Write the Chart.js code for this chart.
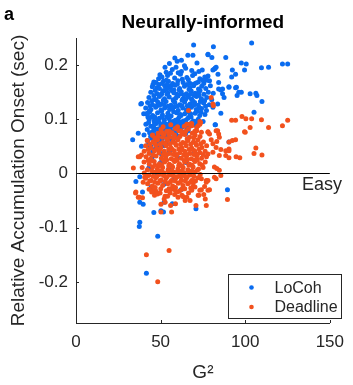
<!DOCTYPE html>
<html>
<head>
<meta charset="utf-8">
<script src="https://cdn.jsdelivr.net/npm/chart.js@4.4.1/dist/chart.umd.min.js"></script>
<style>
  html, body { margin: 0; padding: 0; background: #fff; }
  #wrap { position: relative; width: 353px; height: 385px; }
</style>
</head>
<body>
<div id="wrap"><canvas id="scatter" width="353" height="385"></canvas></div>
<script>
// series names, as in the legend
const seriesNames = ['LoCoh', 'Deadline'];
const panelLabel = 'a';
const chartTitle = 'Neurally-informed';
const xTitle = 'G\u00B2';
const yTitle = 'Relative Accumulation Onset (sec)';
const refLabel = 'Easy';

// axis ticks
const xTicks = [0, 50, 100, 150];
const yTicks = [-0.2, -0.1, 0, 0.1, 0.2];

// LoCoh: [G^2, onset]
const locohPoints = [
  [103.8,0.241],[81.2,0.234],[78,0.220],[80.3,0.214],[88.5,0.214],[97.7,0.204],[100.6,0.202],[122,0.202],[125.1,0.202],
  [109.6,0.195],[113.8,0.196],[99.6,0.191],[92.4,0.191],[94.3,0.183],[92,0.178],[82.2,0.194],[80.9,0.191],[83.9,0.183],
  [78,0.180],[78.9,0.171],[84.3,0.168],[90.4,0.160],[94.3,0.158],[85.6,0.154],[86.6,0.147],[96.2,0.150],[102.9,0.147],
  [106.3,0.148],[106.9,0.144],[109.9,0.133],[85.6,0.111],[105.2,0.113],[82.2,0.090],[90.4,0.058],[89.5,-0.030],
  [81.8,0.193],[82.8,0.196],[90.4,0.159],[84.3,0.156],[86.6,0.156],[94.8,0.159],[95.2,0.144],[97.7,0.150],[87.5,0.140],
  [83.7,0.128],[80.9,0.122],[82.4,0.090],
  [69.5,0.237],[66.1,0.218],[69.1,0.218],[78,0.219],[58.4,0.213],[62.3,0.209],[62.3,0.188],[68.4,0.190],[72.6,0.188],
  [49.6,0.182],[46,0.169],[48.9,0.164],[51.7,0.170],[54.6,0.170],[56.3,0.162],[47.7,0.158],[52.1,0.153],[57.9,0.154],
  [50.7,0.147],[47.3,0.136],[38.7,0.129],[41.6,0.110],[43.5,0.116],[38.3,0.128],[40,0.110],[42.5,0.104],
  [33.5,0.062],[36.8,0.074],[38.7,0.050],[42.5,0.052],[35.4,-0.015],[37.7,-0.006],[39.3,-0.034],[44.4,-0.025],
  [47.3,-0.034],[46.4,-0.034],[37.7,-0.053],[39.7,-0.057],[46,-0.072],[50.2,-0.069],[51.7,-0.071],[37.7,-0.090],
  [37.4,-0.098],[48.3,-0.116],[41.6,-0.184],[70.9,-0.065],[56.9,-0.056],[52.1,-0.053],
  [55.2,0.203],[59.8,0.207],[64.1,0.199],[71.5,0.204],[52.6,0.196],
  [56.9,0.192],[60.4,0.186],[64.8,0.194],[70.2,0.184],[74.6,0.191],[53.3,0.187],
  [50.8,0.178],[54.1,0.181],[58.3,0.176],[61.7,0.183],[65.5,0.177],[68.9,0.181],[73.2,0.175],[76.1,0.178],
  [47.2,0.168],[53.4,0.172],[57.1,0.166],[60.2,0.171],[63.3,0.168],[66.4,0.173],[69.8,0.165],[72.3,0.169],[75.5,0.166],[77.4,0.172],
  [45.1,0.160],[49.3,0.157],[52.4,0.162],[55.3,0.159],[58.6,0.163],[61.2,0.157],[64.1,0.161],[67.3,0.158],[69.5,0.162],
  [72.4,0.156],[74.3,0.161],[76.7,0.157],[79.4,0.162],
  [44.2,0.150],[48.1,0.147],[51.3,0.152],[54.2,0.148],[56.4,0.153],[59.5,0.146],[62.2,0.151],[65.3,0.147],[68.1,0.152],
  [70.4,0.148],[73.3,0.153],[75.6,0.146],[78.2,0.150],[81.1,0.148],
  [43.1,0.140],[46.4,0.137],[49.2,0.142],[52.3,0.138],[55.1,0.141],[57.4,0.136],[60.3,0.143],[63.2,0.138],[66.4,0.141],
  [68.3,0.137],[71.2,0.142],[74.1,0.138],[77.3,0.140],[80.2,0.136],
  [42.3,0.131],[45.2,0.127],[48.3,0.132],[50.4,0.128],[53.2,0.133],[56.1,0.126],[58.4,0.131],[61.3,0.127],[64.2,0.132],
  [67.4,0.128],[70.1,0.131],[72.3,0.126],[75.4,0.130],[78.8,0.127],
  [41.2,0.121],[44.3,0.118],[47.1,0.122],[50.2,0.117],[52.4,0.121],[55.3,0.118],[58.2,0.123],[60.4,0.116],[63.1,0.121],
  [65.3,0.117],[68.2,0.122],[71.1,0.118],[74.2,0.120],[77.1,0.116],
  [42.4,0.111],[45.3,0.107],[48.2,0.112],[51.1,0.108],[54.3,0.111],[56.2,0.106],[59.4,0.112],[62.1,0.107],[64.3,0.110],
  [67.2,0.106],[70.4,0.111],[73.1,0.107],[76.2,0.109],
  [43.2,0.100],[46.1,0.097],[49.3,0.102],[52.2,0.098],[55.1,0.101],[57.3,0.096],[60.2,0.100],[63.4,0.097],[66.1,0.102],
  [69.3,0.097],[72.2,0.100],[75.1,0.096],
  [41.3,0.091],[44.2,0.087],[47.4,0.092],[50.1,0.088],[53.3,0.091],[56.2,0.087],[59.1,0.092],[61.4,0.088],[64.2,0.091],
  [67.1,0.087],[71.3,0.089],
  [42.1,0.081],[45.2,0.077],[48.3,0.082],[51.2,0.078],[54.1,0.081],[57.4,0.077],[60.1,0.080],[63.2,0.076],[66.3,0.079],
  [40.2,0.071],[44.1,0.068],[47.3,0.072],[50.2,0.067],[53.1,0.070],[56.3,0.066],[60.2,0.069],
  [42.3,0.061],[46.1,0.058],[49.2,0.062],[53.3,0.057],[57.1,0.060],
  [44.2,0.050],[48.1,0.047],[52.3,0.051],[45.3,0.040],[50.1,0.037],[55.2,0.041],
  [46.8,0.153],[50.0,0.145],[53.7,0.156],[57.8,0.149],[61.0,0.154],[63.8,0.145],[66.8,0.155],[69.9,0.144],[72.6,0.150],
  [44.8,0.134],[47.7,0.125],[51.6,0.135],[54.6,0.124],[57.6,0.134],[59.9,0.124],[62.7,0.135],[65.8,0.125],[68.9,0.134],[73.5,0.133],
  [43.6,0.114],[46.6,0.104],[50.6,0.115],[53.6,0.104],[57.7,0.114],[61.0,0.104],[65.7,0.114],[68.0,0.104],[71.6,0.115],
  [45.9,0.084],[49.0,0.095],[52.5,0.084],[55.6,0.094],[58.6,0.084],[62.4,0.094],[65.6,0.085],[68.4,0.094],
  [48.8,0.175],[55.8,0.185],[62.8,0.174],[67.5,0.166],[59.1,0.196],
  [45.5,0.164],[50.9,0.166],[54.0,0.164],[59.9,0.165],[65.7,0.164],[71.0,0.167],[74.9,0.172],
  [46.0,0.144],[53.8,0.146],[58.9,0.139],[61.8,0.147],[64.8,0.137],[67.7,0.146],[72.7,0.144],[76.0,0.134],
  [43.7,0.125],[49.4,0.126],[52.2,0.127],[57.1,0.120],[62.6,0.125],[66.6,0.120],[69.6,0.126],[72.9,0.121],[76.6,0.124],
  [44.6,0.104],[47.8,0.098],[50.8,0.104],[54.7,0.106],[58.7,0.098],[61.7,0.109],[64.9,0.098],[67.7,0.110],[70.9,0.096],[73.9,0.113],
  [42.9,0.094],[46.2,0.090],[51.6,0.092],[54.9,0.087],[57.9,0.090],[60.7,0.096],[63.0,0.086],[66.0,0.091],[69.5,0.090],
  [43.5,0.075],[46.5,0.080],[49.7,0.074],[52.7,0.077],[55.7,0.082],[58.8,0.074],[61.9,0.082],[64.8,0.073],
  [45.1,0.064],[48.0,0.055],[51.0,0.064],[55.2,0.063],[50.6,0.054],[46.8,0.045],
  [45,0.030],[50,0.020],[55,0.010],[60,0.030],[65,0.020],[48,0.000],[58,-0.010],[43,0.010],[70,0.040],[52,-0.020],[62,-0.030]
];

// Deadline: [G^2, onset]
const deadlinePoints = [
  [98.1,0.105],[100.4,0.101],[103.8,0.101],[109.6,0.099],[92,0.098],[94.3,0.098],[125.1,0.098],[122,0.088],[102.9,0.085],
  [99.6,0.077],[113.8,0.085],[92.4,0.061],[94.3,0.062],[90.4,0.058],[106.3,0.047],[105.2,0.037],[109.9,0.034],[94.6,0.031],
  [96.8,0.029],[80.9,0.128],[73.2,0.096],[78,0.077],[83.7,0.079],[90.4,0.045],[81.8,0.012],[84.7,0.006],[85.6,-0.004],
  [81.8,-0.007],[77,-0.016],[100,0.076],
  [33.9,0.010],[36.8,0.031],[38.7,0.034],[35.4,-0.034],[36.8,-0.044],[39.7,-0.016],[40.6,-0.007],[45.4,-0.031],[46.4,-0.040],
  [52.1,-0.047],[55,-0.028],[58.4,-0.030],[60.3,-0.044],[62.6,-0.029],[66.5,-0.036],[69.4,-0.016],[74.1,-0.030],[77,-0.013],
  [78,-0.031],[35.2,-0.036],[37.4,-0.044],[39.3,-0.045],[50.2,-0.071],[56.5,-0.071],[50.2,-0.057],[52.7,-0.053],[55.9,-0.059],
  [58.8,-0.056],[64.5,-0.050],[70.9,-0.059],[77,-0.059],[72.6,-0.040],[76.4,-0.047],[55,-0.142],[41.6,-0.150],[48.3,-0.200],
  [66.5,0.116],[67.8,0.090],[79.9,0.140],[81.2,0.125],[68.4,0.092],[73.6,0.094],
  [82.8,0.079],[84.3,0.073],[84.7,0.067],[83.2,0.059],[78,0.076],[73.2,0.091],[71.3,0.085],
  [79.9,0.062],[80.9,0.055],[82.8,0.048],[85.6,0.044],[88.5,0.042],[90.4,0.042],
  [78,0.036],[80.9,0.039],[84.7,0.033],[88.5,0.033],[90.4,0.029],[83.2,0.009],[82.8,-0.010],
  [74.1,-0.010],[78,-0.013],[76,-0.024],[73.2,-0.031],[78.9,-0.030],[75.5,-0.039],[89.5,-0.048],
  [69.4,-0.013],[70.3,-0.025],[68.4,-0.031],[72.2,-0.040],[65.5,-0.044],[67.4,-0.050],
  [67.4,0.091],[72.2,0.088],[71.3,0.079],[74.1,0.076],[78.9,0.073],
  [65.5,0.091],[68.4,0.088],[60.7,0.079],[62.6,0.073],[45.4,0.070],[51.1,0.067],[55,0.073],[37.7,0.031],
  [50.3,0.081],[55.2,0.078],[58.7,0.083],[62.1,0.079],[66.4,0.082],[70.2,0.078],
  [45.2,0.071],[48.4,0.068],[52.1,0.072],[55.3,0.067],[58.2,0.071],[61.4,0.068],[64.3,0.072],[67.1,0.067],[70.4,0.071],[73.3,0.068],
  [42.1,0.061],[45.4,0.058],[48.2,0.062],[51.3,0.057],[54.1,0.061],[57.2,0.058],[60.3,0.062],[63.1,0.057],[66.2,0.061],
  [69.4,0.058],[72.1,0.062],[75.3,0.058],
  [41.2,0.051],[44.3,0.047],[47.1,0.052],[50.2,0.048],[53.3,0.051],[56.1,0.047],[59.2,0.052],[62.4,0.048],[65.1,0.051],
  [68.3,0.047],[71.2,0.052],[74.4,0.048],[77.2,0.051],
  [40.3,0.041],[43.2,0.037],[46.4,0.042],[49.1,0.038],[52.2,0.041],[55.4,0.037],[58.1,0.042],[61.3,0.038],[64.2,0.041],
  [67.4,0.037],[70.1,0.042],[73.2,0.038],[76.3,0.041],
  [41.4,0.031],[44.1,0.027],[47.3,0.032],[50.4,0.028],[53.1,0.031],[56.3,0.027],[59.4,0.032],[62.2,0.028],[65.3,0.031],
  [68.1,0.027],[71.4,0.032],[74.2,0.028],[77.1,0.031],
  [40.2,0.021],[43.3,0.017],[46.2,0.022],[49.3,0.018],[52.4,0.021],[55.2,0.017],[58.3,0.022],[61.1,0.018],[64.4,0.021],
  [67.2,0.017],[70.3,0.022],[73.1,0.018],[76.4,0.021],
  [39.1,0.011],[42.2,0.007],[45.3,0.012],[48.1,0.008],[51.2,0.011],[54.4,0.007],[57.1,0.012],[60.2,0.008],[63.3,0.011],
  [66.1,0.007],[69.2,0.012],[72.4,0.008],[75.1,0.011],
  [40.3,0.001],[43.1,-0.003],[46.4,0.002],[49.2,-0.002],[52.1,0.001],[55.3,-0.003],[58.2,0.002],[61.4,-0.002],[64.1,0.001],
  [67.3,-0.003],[70.2,0.002],[73.4,-0.002],
  [41.2,-0.009],[44.4,-0.013],[47.1,-0.008],[50.3,-0.012],[53.2,-0.009],[56.4,-0.013],[59.1,-0.008],[62.3,-0.012],[65.2,-0.009],
  [68.4,-0.013],[72.1,-0.008],
  [42.3,-0.019],[45.1,-0.023],[48.4,-0.018],[51.2,-0.022],[54.3,-0.019],[57.1,-0.023],[60.4,-0.018],[63.2,-0.022],[66.1,-0.019],[69.3,-0.023],
  [43.2,-0.029],[47.3,-0.033],[50.1,-0.028],[53.4,-0.032],[56.2,-0.029],[61.1,-0.033],[64.3,-0.028],
  [48.2,-0.038],[54.1,-0.042],[58.3,-0.039],[63.4,-0.043],
  [47.7,0.045],[51.6,0.034],[54.8,0.044],[57.6,0.035],[60.8,0.045],[63.7,0.034],[66.8,0.044],[69.7,0.035],[72.8,0.045],
  [44.7,0.024],[48.8,0.014],[51.7,0.025],[54.8,0.014],[57.7,0.025],[60.7,0.014],[63.9,0.024],[66.7,0.015],[69.8,0.025],
  [44.8,0.005],[47.7,-0.006],[50.7,0.005],[53.7,-0.006],[56.7,0.005],[59.7,-0.006],[62.8,0.005],[65.7,-0.006],[68.7,0.005],
  [46.7,0.065],[50.8,0.075],[53.6,0.064],[56.7,0.075],[59.8,0.064],[62.7,0.075],[65.7,0.064],[68.7,0.074],
  [46.8,-0.026],[52.7,-0.015],[58.8,-0.026],[61.8,-0.005],[67.8,-0.027],
  [43.7,0.054],[46.7,0.056],[49.7,0.054],[52.7,0.055],[55.6,0.054],[58.6,0.056],[61.8,0.054],[64.6,0.056],[67.8,0.054],[70.6,0.056],[73.7,0.055],
  [42.7,0.044],[45.6,0.034],[49.6,0.045],[53.6,0.035],[56.6,0.045],[59.6,0.035],[62.7,0.044],[65.6,0.035],[68.8,0.044],[71.7,0.036],[75.2,0.035],
  [42.6,0.024],[46.7,0.015],[50.6,0.015],[53.6,0.025],[56.6,0.014],[59.7,0.025],[62.6,0.014],[65.7,0.025],[68.6,0.015],[71.7,0.025],[74.6,0.015],
  [42.7,-0.004],[45.6,-0.005],[48.7,0.004],[51.7,-0.004],[54.7,0.004],[57.6,-0.005],[60.7,0.004],[63.6,-0.004],[66.7,0.004],[69.6,-0.005],[71.7,0.006],
  [43.6,-0.014],[46.6,-0.016],[49.6,-0.014],[55.6,-0.016],[58.6,-0.014],[61.6,-0.016],[64.6,-0.014],[67.6,-0.016],[70.6,-0.014],
  [44.7,-0.034],[49.7,-0.036],[55.6,-0.036],[59.7,-0.034],[62.6,-0.040],[52.6,-0.042],
  [48.6,0.074],[53.6,0.078],[57.6,0.066],[64.8,0.078],[69.6,0.066],[60.0,0.086],[56.0,0.090],[64.0,0.087],[51.5,0.086]
];

const colors = ['#0a6cf0', '#f2511d'];
const axisColor = '#262626';
const fontFamily = "'Liberation Sans', Arial, Helvetica, sans-serif";

// annotations, ticks drawn inward, zero line, legend box
const extras = {
  id: 'extras',
  afterDatasetsDraw(chart) {
    const ctx = chart.ctx;
    const ys = chart.scales.y;
    const a = chart.chartArea;
    ctx.save();
    // zero reference line
    const y0 = Math.round(ys.getPixelForValue(0)) + 0.5;
    ctx.strokeStyle = '#000';
    ctx.lineWidth = 1;
    ctx.beginPath();
    ctx.moveTo(a.left, y0);
    ctx.lineTo(a.right, y0);
    ctx.stroke();
    ctx.restore();
  },
  afterDraw(chart) {
    const ctx = chart.ctx;
    const xs = chart.scales.x, ys = chart.scales.y;
    const a = chart.chartArea;
    ctx.save();
    ctx.strokeStyle = axisColor;
    ctx.lineWidth = 1;
    // inward tick marks
    ctx.beginPath();
    xTicks.forEach(v => {
      const px = Math.round(xs.getPixelForValue(v)) + 0.5;
      ctx.moveTo(px, a.bottom);
      ctx.lineTo(px, a.bottom - 3);
    });
    yTicks.forEach(v => {
      const py = Math.round(ys.getPixelForValue(v)) + 0.5;
      ctx.moveTo(a.left, py);
      ctx.lineTo(a.left + 3, py);
    });
    ctx.stroke();

    // panel letter and title
    ctx.fillStyle = '#000';
    ctx.font = 'bold 18px ' + fontFamily;
    ctx.textBaseline = 'alphabetic';
    ctx.textAlign = 'left';
    ctx.fillText(panelLabel, 4, 20);
    ctx.font = 'bold 19px ' + fontFamily;
    ctx.textAlign = 'center';
    ctx.fillText(chartTitle, (a.left + a.right) / 2, 28);

    // reference label under the zero line
    ctx.font = '18px ' + fontFamily;
    ctx.textAlign = 'left';
    ctx.fillStyle = axisColor;
    ctx.fillText(refLabel, 302, ys.getPixelForValue(0) + 17);

    // legend
    const bx = 228.5, by = 274.5, bw = 113, bh = 44;
    ctx.fillStyle = '#fff';
    ctx.fillRect(bx, by, bw, bh);
    ctx.strokeStyle = axisColor;
    ctx.strokeRect(bx, by, bw, bh);
    ctx.font = '16px ' + fontFamily;
    ctx.textBaseline = 'middle';
    seriesNames.forEach((name, i) => {
      const ly = by + 13 + i * 19.5;
      ctx.fillStyle = colors[i];
      ctx.beginPath();
      ctx.arc(bx + 23, ly, 2.3, 0, Math.PI * 2);
      ctx.fill();
      ctx.fillStyle = axisColor;
      ctx.fillText(name, bx + 46, ly + 1);
    });
    ctx.restore();
  }
};

const toXY = pts => pts.map(p => ({ x: p[0], y: p[1] }));

const config = {
  type: 'scatter',
  data: {
    datasets: [
      {
        label: seriesNames[0],
        data: toXY(locohPoints),
        backgroundColor: colors[0],
        borderWidth: 0,
        pointRadius: 2.5,
        order: 1
      },
      {
        label: seriesNames[1],
        data: toXY(deadlinePoints),
        backgroundColor: colors[1],
        borderWidth: 0,
        pointRadius: 2.5,
        order: 0
      }
    ]
  },
  options: {
    responsive: false,
    animation: false,
    devicePixelRatio: 1,
    layout: { padding: { top: 38, right: 16, bottom: 0, left: 0 } },
    plugins: {
      legend: { display: false },
      title: { display: false },
      tooltip: { enabled: false }
    },
    scales: {
      x: {
        type: 'linear',
        min: 0,
        max: 150,
        grid: { display: false, drawTicks: false },
        border: { display: true, color: axisColor, width: 1 },
        ticks: { color: axisColor, padding: 9, font: { family: fontFamily, size: 17 } },
        afterBuildTicks: s => { s.ticks = xTicks.map(v => ({ value: v })); },
        title: {
          display: true,
          text: xTitle,
          color: axisColor,
          font: { family: fontFamily, size: 19 },
          padding: { top: 0, bottom: 1 }
        },
        afterFit: s => { s.height = 62; }
      },
      y: {
        type: 'linear',
        min: -0.276,
        max: 0.25,
        grid: { display: false, drawTicks: false },
        border: { display: true, color: axisColor, width: 1 },
        ticks: {
          color: axisColor,
          padding: 8,
          font: { family: fontFamily, size: 17 },
          callback: v => (v === 0 ? '0' : v.toFixed(1))
        },
        afterBuildTicks: s => { s.ticks = yTicks.map(v => ({ value: v })); },
        title: {
          display: true,
          text: yTitle,
          color: axisColor,
          font: { family: fontFamily, size: 19 },
          padding: { top: 7, bottom: 0 }
        },
        afterFit: s => { s.width = 76; }
      }
    }
  },
  plugins: [extras]
};

new Chart(document.getElementById('scatter').getContext('2d'), config);
</script>
</body>
</html>
